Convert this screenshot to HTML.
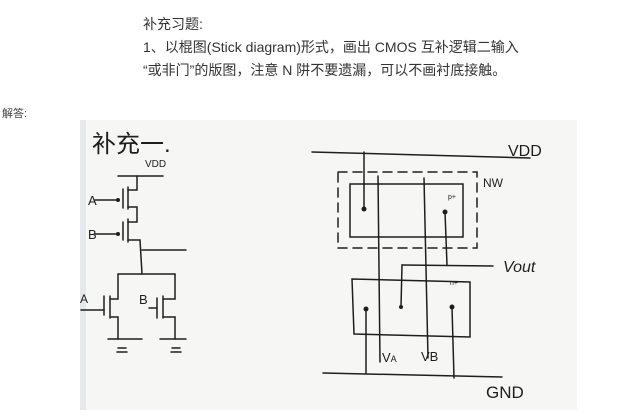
<!DOCTYPE html>
<html><head><meta charset="utf-8"><style>
html,body{margin:0;padding:0;background:#fff;width:623px;height:416px;overflow:hidden}
.t{position:absolute;font-family:"Liberation Sans","Noto Sans CJK SC",sans-serif;color:#333;white-space:nowrap}
</style></head><body>
<div class="t" style="left:143px;top:14px;font-size:14px;">补充习题:</div>
<div class="t" style="left:143px;top:37px;font-size:14px;">1、以棍图(Stick diagram)形式，画出 CMOS 互补逻辑二输入</div>
<div class="t" style="left:143px;top:60px;font-size:14px;">“或非门”的版图，注意 N 阱不要遗漏，可以不画衬底接触。</div>
<div class="t" style="left:2px;top:105px;font-size:11px;color:#444;">解答:</div>
<svg width="623" height="416" style="position:absolute;left:0;top:0" xmlns="http://www.w3.org/2000/svg">
<rect x="80" y="120" width="497" height="290" fill="#f6f6f5"/>
<rect x="80" y="120" width="6" height="290" fill="#e6e8ec"/>
<g stroke="#1e1e1e" stroke-width="1.5" fill="none" stroke-linecap="round">
<!-- left schematic -->
<line x1="118" y1="176" x2="163" y2="176"/>
<polyline points="137,176 137,190 128,190"/>
<line x1="128" y1="187" x2="128" y2="209"/>
<line x1="123" y1="189" x2="123" y2="208"/>
<line x1="95" y1="200" x2="117" y2="200"/>
<polyline points="128,207 137,207 137,222 128,222"/>
<line x1="128" y1="219" x2="128" y2="242"/>
<line x1="123" y1="222" x2="123" y2="240"/>
<line x1="95" y1="234" x2="117" y2="234"/>
<polyline points="128,240 140,240 142,274"/>
<line x1="142" y1="250" x2="186" y2="250"/>
<polyline points="118,339 118,317 111,317"/>
<polyline points="118,274 175,274"/>
<polyline points="118,274 118,299 110,299"/>
<line x1="110" y1="296" x2="110" y2="318"/>
<line x1="104" y1="296" x2="104" y2="315"/>
<line x1="81" y1="310" x2="104" y2="310"/>
<line x1="108" y1="339" x2="142" y2="339"/>
<line x1="118" y1="348" x2="126" y2="348"/>
<line x1="117" y1="352" x2="127" y2="352"/>
<polyline points="175,274 175,299 163,299"/>
<line x1="163" y1="296" x2="163" y2="318"/>
<line x1="157" y1="298" x2="157" y2="318"/>
<line x1="149" y1="308" x2="157" y2="308"/>
<polyline points="163,317 175,317 175,339"/>
<line x1="160" y1="339" x2="186" y2="339"/>
<line x1="172" y1="348" x2="180" y2="348"/>
<line x1="171" y1="352" x2="181" y2="352"/>
<!-- right layout -->
<line x1="312" y1="152" x2="530" y2="158"/>
<rect x="338" y="172" width="139" height="76" stroke-dasharray="9,6"/>
<rect x="350" y="184" width="113" height="53"/>
<line x1="364" y1="152" x2="364" y2="209"/>
<line x1="378" y1="176" x2="380" y2="362"/>
<line x1="424" y1="178" x2="428" y2="358"/>
<line x1="445" y1="212" x2="447" y2="265"/>
<line x1="402" y1="265" x2="493" y2="266"/>
<line x1="402" y1="265" x2="401" y2="307"/>
<polygon points="352,279 470,282 470,337 354,334"/>
<line x1="366" y1="309" x2="366" y2="373"/>
<line x1="452" y1="307" x2="454" y2="378"/>
<line x1="323" y1="373" x2="502" y2="377"/>
</g>
<g fill="#1e1e1e">
<circle cx="118" cy="200" r="2"/><circle cx="118" cy="234" r="2"/>
<circle cx="364" cy="209" r="2.5"/><circle cx="445" cy="212" r="2.5"/>
<circle cx="401" cy="307" r="2"/><circle cx="366" cy="309" r="2.5"/><circle cx="452" cy="307" r="2.5"/>
</g>
<g font-family="Liberation Sans,Noto Sans CJK SC,sans-serif" fill="#1e1e1e">
<text x="92" y="152" font-size="24">补充一.</text>
<text x="145" y="167" font-size="10">VDD</text>
<text x="88" y="205" font-size="13">A</text>
<text x="88" y="239" font-size="13">B</text>
<text x="80" y="303" font-size="12">A</text>
<text x="139" y="304" font-size="13">B</text>
<text x="508" y="156" font-size="16">VDD</text>
<text x="483" y="187" font-size="12">NW</text>
<text x="448" y="199" font-size="7">p+</text>
<text x="450" y="285" font-size="7">n+</text>
<text x="503" y="272" font-size="16" font-style="italic">Vout</text>
<text x="382" y="362" font-size="13">V<tspan font-size="9">A</tspan></text>
<text x="421" y="361" font-size="13">VB</text>
<text x="486" y="398" font-size="17">GND</text>
</g>
</svg>
</body></html>
